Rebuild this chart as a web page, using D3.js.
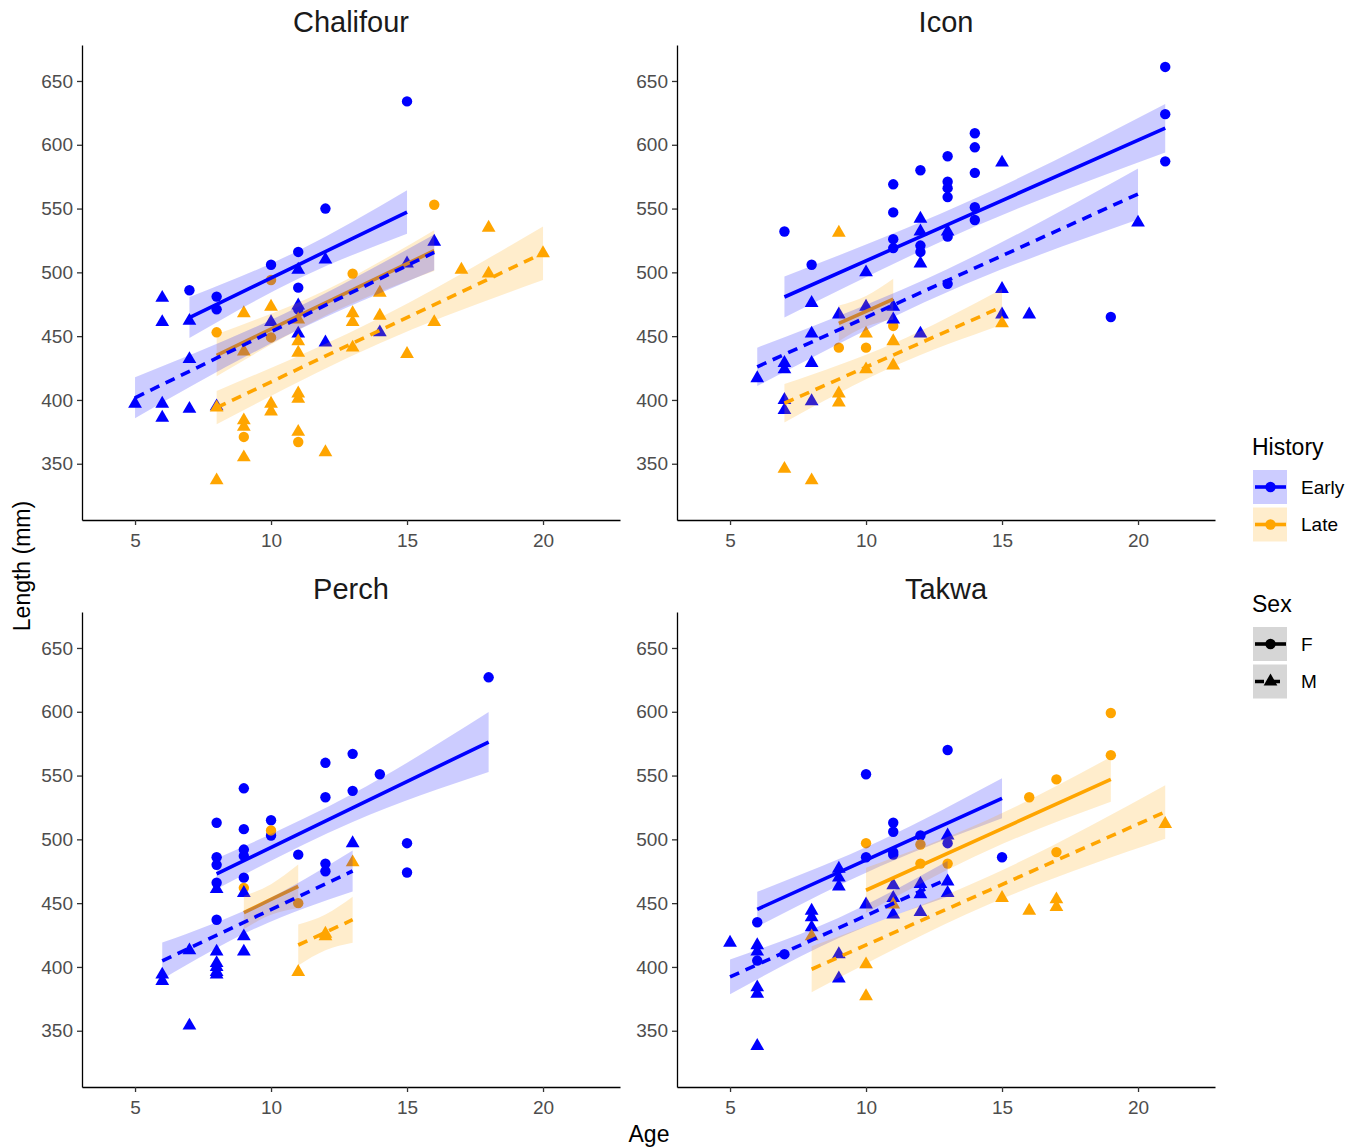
<!DOCTYPE html>
<html>
<head>
<meta charset="utf-8">
<script src="https://cdn.jsdelivr.net/npm/d3@7"></script>
<style>
  body { margin: 0; background: #fff; }
  svg text { font-family: "Liberation Sans", Arial, sans-serif; }
</style>
</head>
<body>
<script>
var W = 1357, H = 1147;

var lakes = ["Chalifour", "Icon", "Perch", "Takwa"];
var xTicks = [5, 10, 15, 20];
var yTicks = [350, 400, 450, 500, 550, 600, 650];

// points [age, length] per lake / history / sex
var chalifourEarlyF = [[7,486],[8,481],[8,471],[10,506],[11,516],[11,488],[11,471],[12,550],[15,634]];
var chalifourEarlyM = [[5,397],[6,480],[6,461],[6,397],[6,386],[7,462],[7,432],[7,393],[8,395],[10,461],[11,502],[11,474],[11,452],[12,510],[12,445],[14,453],[15,507],[16,524]];
var chalifourLateF = [[8,453],[9,371],[10,494],[10,449],[11,367],[13,499],[16,553]];
var chalifourLateM = [[8,394],[8,337],[9,468],[9,438],[9,384],[9,379],[9,355],[10,473],[10,397],[10,391],[11,463],[11,446],[11,437],[11,405],[11,401],[11,375],[12,359],[13,468],[13,461],[13,441],[14,484],[14,466],[15,436],[16,461],[17,502],[18,535],[18,499],[20,515]];

var iconEarlyF = [[7,532],[8,506],[11,569],[11,547],[11,526],[11,519],[12,580],[12,521],[12,516],[13,591],[13,571],[13,566],[13,559],[13,528],[13,491],[14,609],[14,598],[14,578],[14,551],[14,541],[19,465],[21,661],[21,624],[21,587]];
var iconEarlyM = [[6,417],[7,429],[7,424],[7,400],[7,392],[8,476],[8,452],[8,429],[8,399],[9,467],[10,500],[10,473],[11,473],[11,463],[12,542],[12,532],[12,507],[12,452],[13,532],[15,586],[15,487],[15,467],[16,467],[20,539]];
var iconLateF = [[9,441],[10,441],[11,458]];
var iconLateM = [[7,346],[8,337],[9,531],[9,405],[9,398],[10,452],[10,424],[11,446],[11,427],[15,460]];

var perchEarlyF = [[8,513],[8,486],[8,480],[8,466],[8,437],[9,540],[9,508],[9,492],[9,487],[9,470],[10,515],[10,503],[11,488],[12,560],[12,533],[12,481],[12,475],[13,567],[13,538],[14,551],[15,497],[15,474],[18,627]];
var perchEarlyM = [[6,394],[6,389],[7,413],[7,354],[8,461],[8,412],[8,403],[8,400],[8,396],[8,394],[9,458],[9,424],[9,412],[13,497]];
var perchLateF = [[9,462],[10,507],[11,450]];
var perchLateM = [[11,396],[12,426],[12,424],[13,482]];

var takwaEarlyF = [[6,435],[6,405],[7,410],[10,551],[10,486],[11,513],[11,506],[11,490],[11,488],[12,503],[13,570],[13,497],[15,486]];
var takwaEarlyM = [[5,419],[6,417],[6,412],[6,384],[6,379],[6,338],[8,444],[8,439],[8,431],[9,477],[9,470],[9,463],[9,410],[9,391],[10,449],[11,464],[11,454],[11,441],[12,465],[12,457],[12,443],[13,503],[13,467],[13,458]];
var takwaLateF = [[10,497],[12,496],[12,481],[13,481],[16,533],[17,547],[17,490],[19,599],[19,566]];
var takwaLateM = [[8,424],[10,402],[10,377],[11,449],[15,454],[16,444],[17,453],[17,447],[21,512]];

// fitted lines: [fit at youngest age, fit at oldest age, CI half-width start, middle, end]
var chalifourFits = { EarlyF: [464.6, 547.3, 16, 11, 17], LateF: [435, 517, 16.5, 10, 16], EarlyM: [401.7, 515.7, 16, 9, 14], LateM: [394, 515, 13, 10, 21] };
var iconFits = { EarlyF: [480.7, 613, 16, 11, 19], LateF: [460, 479, 14, 12, 16], EarlyM: [426, 561.4, 15, 9, 20], LateM: [397.4, 473, 15, 9, 14] };
var perchFits = { EarlyF: [473, 576.3, 12, 11, 23.5], LateF: [442.6, 463.2, 13, 12, 17], EarlyM: [404.7, 475.2, 14.4, 9, 16], LateM: [417.2, 437, 16, 14, 18] };
var takwaFits = { EarlyF: [445.2, 532.2, 13.7, 10, 15.6], LateF: [460.1, 547, 17.6, 12, 17.6], EarlyM: [392.2, 469, 13.7, 8, 14], LateM: [398.2, 521.5, 18, 11, 21] };

var lakePoints = {
  Chalifour: { EarlyF: chalifourEarlyF, EarlyM: chalifourEarlyM, LateF: chalifourLateF, LateM: chalifourLateM },
  Icon: { EarlyF: iconEarlyF, EarlyM: iconEarlyM, LateF: iconLateF, LateM: iconLateM },
  Perch: { EarlyF: perchEarlyF, EarlyM: perchEarlyM, LateF: perchLateF, LateM: perchLateM },
  Takwa: { EarlyF: takwaEarlyF, EarlyM: takwaEarlyM, LateF: takwaLateF, LateM: takwaLateM }
};
var lakeFits = { Chalifour: chalifourFits, Icon: iconFits, Perch: perchFits, Takwa: takwaFits };

var colors = { Early: "#0000FF", Late: "#FFA500" };
var groupOrder = [["Early","F"],["Late","F"],["Early","M"],["Late","M"]];

var pw = 538, ph = 475;
var panelPos = [[82, 45], [677, 45], [82, 612], [677, 612]];

var x = d3.scaleLinear().domain([3.05, 22.83]).range([0, pw]);
var y = d3.scaleLinear().domain([305.9, 678.2]).range([ph, 0]);

var svg = d3.select("body").append("svg")
  .attr("width", W).attr("height", H);

var circleSym = d3.symbol().type(d3.symbolCircle).size(85);
var triSym = d3.symbol().type(d3.symbolTriangle).size(82);

lakes.forEach(function(lake, i) {
  var g = svg.append("g").attr("transform", "translate(" + panelPos[i][0] + "," + panelPos[i][1] + ")");

  g.append("text")
    .attr("x", pw / 2).attr("y", -13)
    .attr("text-anchor", "middle")
    .style("font-size", "29px").attr("fill", "#1a1a1a")
    .text(lake);

  var pts = lakePoints[lake];
  // points first, ribbons go on top
  groupOrder.forEach(function(gr) {
    var key = gr[0] + gr[1];
    g.selectAll(null).data(pts[key]).enter().append("path")
      .attr("d", gr[1] == "F" ? circleSym : triSym)
      .attr("transform", function(d) { return "translate(" + x(d[0]) + "," + y(d[1]) + ")"; })
      .attr("fill", colors[gr[0]]);
  });

  groupOrder.forEach(function(gr) {
    var key = gr[0] + gr[1];
    var f = lakeFits[lake][key];
    var ext = d3.extent(pts[key], function(d) { return d[0]; });
    var xm = (ext[0] + ext[1]) / 2;
    var slope = (f[1] - f[0]) / (ext[1] - ext[0]);
    var band = [
      [ext[0], f[0], f[2]],
      [xm, f[0] + slope * (xm - ext[0]), f[3]],
      [ext[1], f[1], f[4]]
    ];
    g.append("path")
      .datum(band)
      .attr("d", d3.area()
        .curve(d3.curveMonotoneX)
        .x(function(d) { return x(d[0]); })
        .y0(function(d) { return y(d[1] - d[2]); })
        .y1(function(d) { return y(d[1] + d[2]); }))
      .attr("fill", colors[gr[0]])
      .attr("fill-opacity", 0.2);
    g.append("path")
      .datum(band)
      .attr("d", d3.line().x(function(d) { return x(d[0]); }).y(function(d) { return y(d[1]); }))
      .attr("fill", "none")
      .attr("stroke", colors[gr[0]])
      .attr("stroke-width", 3.6)
      .attr("stroke-dasharray", gr[1] == "M" ? "10,7" : null);
  });

  var ax = g.append("g").attr("transform", "translate(0," + ph + ")")
    .call(d3.axisBottom(x).tickValues(xTicks).tickSize(5).tickSizeOuter(0).tickPadding(9));
  var ay = g.append("g")
    .call(d3.axisLeft(y).tickValues(yTicks).tickSize(5).tickSizeOuter(0).tickPadding(4));
  [ax, ay].forEach(function(a) {
    a.select(".domain").attr("stroke", "#000").attr("stroke-width", 1.3);
    a.selectAll(".tick line").attr("stroke", "#333").attr("stroke-width", 1.3);
    a.selectAll(".tick text").attr("fill", "#4d4d4d").style("font-size", "19px");
  });
});

svg.append("text")
  .attr("transform", "translate(22,566) rotate(-90)")
  .attr("text-anchor", "middle").attr("dominant-baseline", "central")
  .style("font-size", "23px").attr("fill", "#000")
  .text("Length (mm)");

svg.append("text")
  .attr("x", 649).attr("y", 1142)
  .attr("text-anchor", "middle")
  .style("font-size", "23px").attr("fill", "#000")
  .text("Age");

// legends
var leg = svg.append("g");
leg.append("text").attr("x", 1252).attr("y", 455).style("font-size", "23px").text("History");
leg.append("text").attr("x", 1252).attr("y", 612).style("font-size", "23px").text("Sex");

var histKeys = ["Early", "Late"];
histKeys.forEach(function(h, i) {
  var ky = 470 + i * 37.5;
  leg.append("rect").attr("x", 1253).attr("y", ky).attr("width", 34).attr("height", 34)
    .attr("fill", colors[h]).attr("fill-opacity", 0.2);
  leg.append("line").attr("x1", 1255).attr("x2", 1286).attr("y1", ky + 17).attr("y2", ky + 17)
    .attr("stroke", colors[h]).attr("stroke-width", 3.6);
  leg.append("path").attr("d", circleSym).attr("transform", "translate(1270.5," + (ky + 17) + ")")
    .attr("fill", colors[h]);
  leg.append("text").attr("x", 1301).attr("y", ky + 17).attr("dominant-baseline", "central")
    .style("font-size", "19px").text(h);
});

var sexKeys = ["F", "M"];
sexKeys.forEach(function(s, i) {
  var ky = 627 + i * 37.5;
  leg.append("rect").attr("x", 1253).attr("y", ky).attr("width", 34).attr("height", 34)
    .attr("fill", "#999").attr("fill-opacity", 0.4);
  leg.append("line").attr("x1", 1255).attr("x2", 1286).attr("y1", ky + 17).attr("y2", ky + 17)
    .attr("stroke", "#000").attr("stroke-width", 3.6)
    .attr("stroke-dasharray", s == "M" ? "9,7" : null);
  leg.append("path").attr("d", s == "F" ? circleSym : triSym)
    .attr("transform", "translate(1270.5," + (ky + 17) + ")")
    .attr("fill", "#000");
  leg.append("text").attr("x", 1301).attr("y", ky + 17).attr("dominant-baseline", "central")
    .style("font-size", "19px").text(s);
});
</script>
</body>
</html>
